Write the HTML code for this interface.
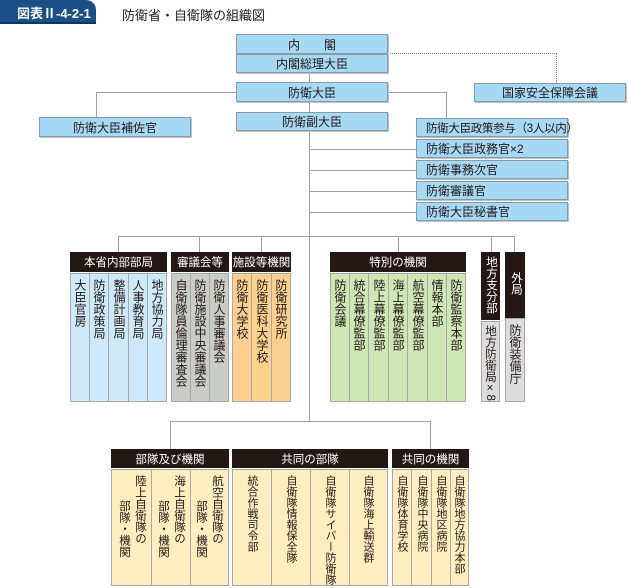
<!DOCTYPE html>
<html><head><meta charset="utf-8"><style>
body{margin:0;width:628px;height:588px;background:#fff;position:relative;overflow:hidden;font-family:"Liberation Sans","Noto Sans CJK JP",sans-serif;color:#231815}
.a{position:absolute;box-sizing:border-box}
.b{background:#a6d9f6;border:1px solid #8a9aa4;box-shadow:1px 1px 0 #b8c4cc;font-size:12px;display:flex;align-items:center;white-space:nowrap}
.c{justify-content:center}
.l{padding-left:9px}
.h{background:#231815;color:#fff;font-size:11.5px;display:flex;align-items:center;justify-content:center}
.hv{background:#231815;color:#fff;font-size:11.5px;writing-mode:vertical-rl;line-height:19px;padding-top:4px}
.ln{position:absolute;background:#a0a0a0}
.col{position:absolute;box-sizing:border-box;border:1px solid #a8a8a8;writing-mode:vertical-rl;font-size:11px;line-height:18px;padding-top:5px;white-space:nowrap}
.m{font-size:12px}
.col span{display:block}
</style></head><body>
<div class="a" style="left:0;top:0;width:96px;height:24px;background:#1b4f86;border-radius:0 10px 0 0;color:#fff;font-size:13px;font-weight:bold;display:flex;align-items:center;padding-left:17px">図表Ⅱ-4-2-1</div>
<div class="a" style="left:0;top:22px;width:96px;height:2px;background:#0f3563"></div>
<div class="a" style="left:122px;top:5px;font-size:13px">防衛省・自衛隊の組織図</div>

<div class="ln" style="left:309px;top:72px;width:1px;height:349px"></div>
<div class="ln" style="left:96px;top:92px;width:140px;height:1px"></div>
<div class="ln" style="left:96px;top:92px;width:1px;height:25px"></div>
<div class="ln" style="left:388px;top:92px;width:58px;height:1px"></div>
<div class="ln" style="left:446px;top:92px;width:1px;height:26px"></div>
<div class="ln" style="left:310px;top:149px;width:106px;height:1px"></div>
<div class="ln" style="left:310px;top:170px;width:106px;height:1px"></div>
<div class="ln" style="left:310px;top:191px;width:106px;height:1px"></div>
<div class="ln" style="left:310px;top:212px;width:106px;height:1px"></div>
<div class="a" style="left:388px;top:53px;width:169px;height:30px;border-top:1px dotted #888;border-right:1px dotted #888"></div>
<div class="ln" style="left:118px;top:236px;width:397px;height:1px"></div>
<div class="ln" style="left:118px;top:236px;width:1px;height:16px"></div>
<div class="ln" style="left:199px;top:236px;width:1px;height:16px"></div>
<div class="ln" style="left:261px;top:236px;width:1px;height:16px"></div>
<div class="ln" style="left:398px;top:236px;width:1px;height:16px"></div>
<div class="ln" style="left:491px;top:236px;width:1px;height:16px"></div>
<div class="ln" style="left:514px;top:236px;width:1px;height:16px"></div>
<div class="ln" style="left:170px;top:421px;width:260px;height:1px"></div>
<div class="ln" style="left:170px;top:421px;width:1px;height:28px"></div>
<div class="ln" style="left:430px;top:421px;width:1px;height:28px"></div>

<div class="a b c" style="left:236px;top:34px;width:152px;height:20px">内　　閣</div>
<div class="a b c" style="left:236px;top:54px;width:152px;height:19px">内閣総理大臣</div>
<div class="a b c" style="left:236px;top:82px;width:152px;height:20px">防衛大臣</div>
<div class="a b c" style="left:236px;top:112px;width:152px;height:19px">防衛副大臣</div>
<div class="a b c" style="left:39px;top:117px;width:152px;height:20px">防衛大臣補佐官</div>
<div class="a b c" style="left:474px;top:83px;width:152px;height:19px">国家安全保障会議</div>
<div class="a b l" style="left:416px;top:118px;width:152px;height:19px;font-size:11.5px;letter-spacing:-0.3px">防衛大臣政策参与（3人以内）</div>
<div class="a b l" style="left:416px;top:139px;width:152px;height:19px">防衛大臣政務官×2</div>
<div class="a b l" style="left:416px;top:160px;width:152px;height:19px">防衛事務次官</div>
<div class="a b l" style="left:416px;top:181px;width:152px;height:19px">防衛審議官</div>
<div class="a b l" style="left:416px;top:202px;width:152px;height:19px">防衛大臣秘書官</div>

<div class="a h" style="left:70px;top:252px;width:97px;height:20px">本省内部部局</div>
<div class="a h" style="left:171px;top:252px;width:58px;height:20px">審議会等</div>
<div class="a h" style="left:232px;top:252px;width:59px;height:20px">施設等機関</div>
<div class="a h" style="left:330px;top:252px;width:136px;height:20px">特別の機関</div>
<div class="a hv" style="left:481px;top:252px;width:19px;height:68px">地方支分部局</div>
<div class="a hv" style="left:505px;top:252px;width:20px;height:66px;padding-top:20px">外局</div>

<div class="col m" style="left:70px;top:273px;width:20px;height:129px;background:#cde9f9">大臣官房</div>
<div class="col m" style="left:89px;top:273px;width:20px;height:129px;background:#cde9f9">防衛政策局</div>
<div class="col m" style="left:108px;top:273px;width:21px;height:129px;background:#cde9f9">整備計画局</div>
<div class="col m" style="left:128px;top:273px;width:20px;height:129px;background:#cde9f9">人事教育局</div>
<div class="col m" style="left:147px;top:273px;width:20px;height:129px;background:#cde9f9">地方協力局</div>
<div class="col m" style="left:171px;top:273px;width:20px;height:129px;background:#c9cbc6">自衛隊員倫理審査会</div>
<div class="col m" style="left:190px;top:273px;width:20px;height:129px;background:#c9cbc6">防衛施設中央審議会</div>
<div class="col m" style="left:209px;top:273px;width:20px;height:129px;background:#c9cbc6">防衛人事審議会</div>
<div class="col m" style="left:232px;top:273px;width:20px;height:129px;background:#fbd08e">防衛大学校</div>
<div class="col m" style="left:251px;top:273px;width:21px;height:129px;background:#fbd08e">防衛医科大学校</div>
<div class="col m" style="left:271px;top:273px;width:20px;height:129px;background:#fbd08e">防衛研究所</div>
<div class="col m" style="left:330px;top:273px;width:20px;height:129px;background:#cde6b4">防衛会議</div>
<div class="col m" style="left:349px;top:273px;width:20px;height:129px;background:#cde6b4">統合幕僚監部</div>
<div class="col m" style="left:368px;top:273px;width:21px;height:129px;background:#cde6b4">陸上幕僚監部</div>
<div class="col m" style="left:388px;top:273px;width:20px;height:129px;background:#cde6b4">海上幕僚監部</div>
<div class="col m" style="left:407px;top:273px;width:21px;height:129px;background:#cde6b4">航空幕僚監部</div>
<div class="col m" style="left:427px;top:273px;width:20px;height:129px;background:#cde6b4">情報本部</div>
<div class="col m" style="left:446px;top:273px;width:20px;height:129px;background:#cde6b4">防衛監察本部</div>
<div class="col m" style="left:481px;top:321px;width:19px;height:81px;background:#dcdcdc;padding-top:3px;font-size:11.5px">地方防衛局×8</div>
<div class="col m" style="left:505px;top:318px;width:20px;height:84px;background:#dcdcdc">防衛装備庁</div>

<div class="a h" style="left:111px;top:449px;width:118px;height:19px">部隊及び機関</div>
<div class="a h" style="left:232px;top:449px;width:156px;height:19px">共同の部隊</div>
<div class="a h" style="left:392px;top:449px;width:77px;height:19px">共同の機関</div>

<div class="col" style="left:111px;top:469px;width:41px;height:117px;background:#fdeebf;padding-right:3px;line-height:16px;font-size:11.5px"><span>陸上自衛隊の</span><span style="padding-top:25px">部隊・機関</span></div>
<div class="col" style="left:151px;top:469px;width:40px;height:117px;background:#fdeebf;padding-right:3px;line-height:16px;font-size:11.5px"><span>海上自衛隊の</span><span style="padding-top:25px">部隊・機関</span></div>
<div class="col" style="left:190px;top:469px;width:39px;height:117px;background:#fdeebf;padding-right:3px;line-height:16px;font-size:11.5px"><span>航空自衛隊の</span><span style="padding-top:25px">部隊・機関</span></div>
<div class="col" style="left:232px;top:469px;width:40px;height:117px;background:#fdeebf;padding-right:10px">統合作戦司令部</div>
<div class="col" style="left:271px;top:469px;width:40px;height:117px;background:#fdeebf;padding-right:10px">自衛隊情報保全隊</div>
<div class="col" style="left:310px;top:469px;width:40px;height:117px;background:#fdeebf;padding-right:10px">自衛隊サイバー防衛隊</div>
<div class="col" style="left:349px;top:469px;width:39px;height:117px;background:#fdeebf;padding-right:10px">自衛隊海上輸送群</div>
<div class="col" style="left:392px;top:469px;width:20px;height:117px;background:#fdeebf">自衛隊体育学校</div>
<div class="col" style="left:411px;top:469px;width:21px;height:117px;background:#fdeebf">自衛隊中央病院</div>
<div class="col" style="left:431px;top:469px;width:20px;height:117px;background:#fdeebf">自衛隊地区病院</div>
<div class="col" style="left:450px;top:469px;width:19px;height:117px;background:#fdeebf">自衛隊地方協力本部</div>
</body></html>
